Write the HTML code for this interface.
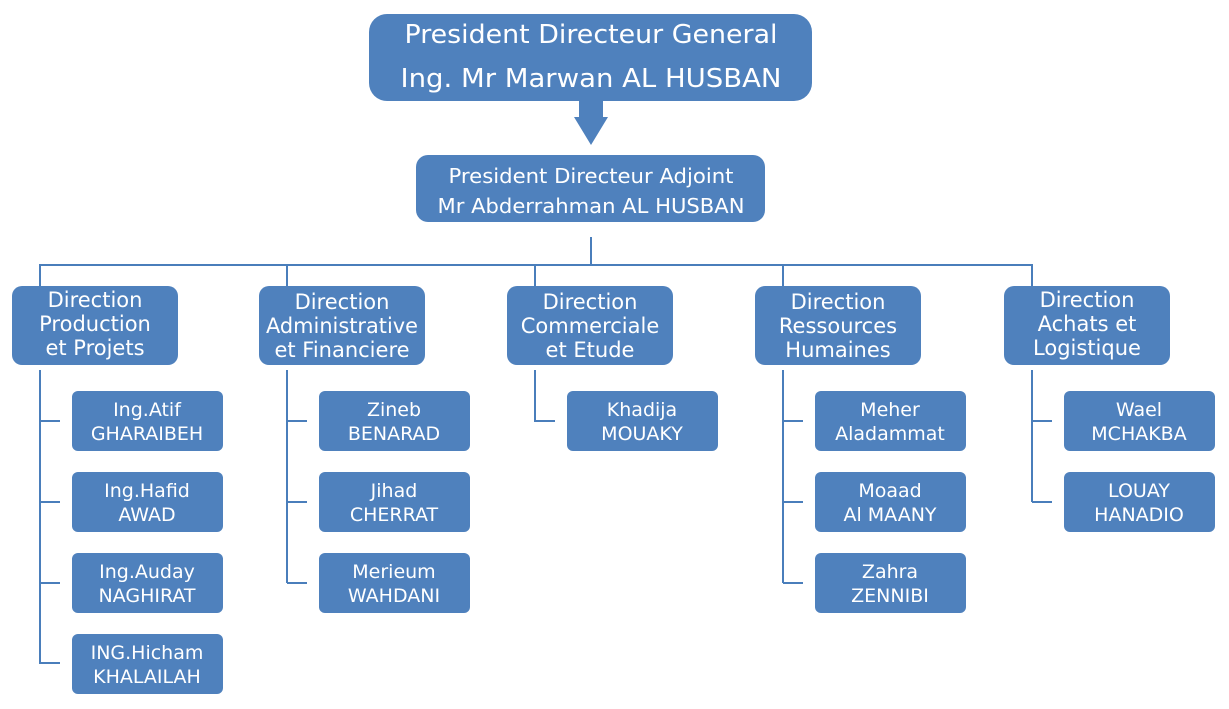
<!DOCTYPE html>
<html><head><meta charset="utf-8"><style>
html,body{margin:0;padding:0;background:#fff;}
svg{display:block;}
text{font-family:"DejaVu Sans","Liberation Sans",sans-serif;fill:#fff;text-anchor:middle;}
</style></head><body>
<svg width="1229" height="709" viewBox="0 0 1229 709" xmlns="http://www.w3.org/2000/svg">
<g fill="#4f81bd">
<rect x="369" y="14" width="443" height="87" rx="18"/>
<polygon points="579,101 603,101 603,117 608,117 591,145 574,117 579,117"/>
<rect x="416" y="155" width="349" height="67" rx="12"/>
</g>
<text x="591" y="43" font-size="26" textLength="373" lengthAdjust="spacingAndGlyphs">President Directeur General</text>
<text x="591" y="87" font-size="26" textLength="381" lengthAdjust="spacingAndGlyphs">Ing. Mr Marwan AL HUSBAN</text>
<text x="591" y="183" font-size="20.5" textLength="285" lengthAdjust="spacingAndGlyphs">President Directeur Adjoint</text>
<text x="591" y="213" font-size="20.5" textLength="307" lengthAdjust="spacingAndGlyphs">Mr Abderrahman AL HUSBAN</text>

<g stroke="#4a7ebb" stroke-width="2" fill="none">
<line x1="591" y1="237" x2="591" y2="265"/>
<line x1="39" y1="265" x2="1033" y2="265"/>
<line x1="40" y1="265" x2="40" y2="286"/>
<line x1="287" y1="265" x2="287" y2="286"/>
<line x1="535" y1="265" x2="535" y2="286"/>
<line x1="783" y1="265" x2="783" y2="286"/>
<line x1="1032" y1="265" x2="1032" y2="286"/>
<path d="M40 370 V664 M40 421 H60 M40 502 H60 M40 583 H60 M40 663 H60"/>
<path d="M287 370 V583 M287 421 H307 M287 502 H307 M287 583 H307"/>
<path d="M535 370 V421 H555"/>
<path d="M783 370 V583 M783 421 H803 M783 502 H803 M783 583 H803"/>
<path d="M1032 370 V502 M1032 421 H1052 M1032 502 H1052"/>
</g>

<g fill="#4f81bd">
<rect x="12" y="286" width="166" height="79" rx="10"/>
<rect x="259" y="286" width="166" height="79" rx="10"/>
<rect x="507" y="286" width="166" height="79" rx="10"/>
<rect x="755" y="286" width="166" height="79" rx="10"/>
<rect x="1004" y="286" width="166" height="79" rx="10"/>
<rect x="72" y="391" width="151" height="60" rx="6"/>
<rect x="72" y="472" width="151" height="60" rx="6"/>
<rect x="72" y="553" width="151" height="60" rx="6"/>
<rect x="72" y="634" width="151" height="60" rx="6"/>
<rect x="319" y="391" width="151" height="60" rx="6"/>
<rect x="319" y="472" width="151" height="60" rx="6"/>
<rect x="319" y="553" width="151" height="60" rx="6"/>
<rect x="567" y="391" width="151" height="60" rx="6"/>
<rect x="815" y="391" width="151" height="60" rx="6"/>
<rect x="815" y="472" width="151" height="60" rx="6"/>
<rect x="815" y="553" width="151" height="60" rx="6"/>
<rect x="1064" y="391" width="151" height="60" rx="6"/>
<rect x="1064" y="472" width="151" height="60" rx="6"/>
</g>

<g font-size="21">
<text x="95" y="307">Direction</text><text x="95" y="331">Production</text><text x="95" y="355">et Projets</text>
<text x="342" y="309">Direction</text><text x="342" y="333" textLength="152" lengthAdjust="spacingAndGlyphs">Administrative</text><text x="342" y="357">et Financiere</text>
<text x="590" y="309">Direction</text><text x="590" y="333">Commerciale</text><text x="590" y="357">et Etude</text>
<text x="838" y="309">Direction</text><text x="838" y="333">Ressources</text><text x="838" y="357">Humaines</text>
<text x="1087" y="307">Direction</text><text x="1087" y="331">Achats et</text><text x="1087" y="355">Logistique</text>
</g>

<g font-size="19">
<text x="147" y="416">Ing.Atif</text><text x="147" y="440">GHARAIBEH</text>
<text x="147" y="497">Ing.Hafid</text><text x="147" y="521">AWAD</text>
<text x="147" y="578">Ing.Auday</text><text x="147" y="602">NAGHIRAT</text>
<text x="147" y="659">ING.Hicham</text><text x="147" y="683">KHALAILAH</text>
<text x="394" y="416">Zineb</text><text x="394" y="440">BENARAD</text>
<text x="394" y="497">Jihad</text><text x="394" y="521">CHERRAT</text>
<text x="394" y="578">Merieum</text><text x="394" y="602">WAHDANI</text>
<text x="642" y="416">Khadija</text><text x="642" y="440">MOUAKY</text>
<text x="890" y="416">Meher</text><text x="890" y="440">Aladammat</text>
<text x="890" y="497">Moaad</text><text x="890" y="521">Al MAANY</text>
<text x="890" y="578">Zahra</text><text x="890" y="602">ZENNIBI</text>
<text x="1139" y="416">Wael</text><text x="1139" y="440">MCHAKBA</text>
<text x="1139" y="497">LOUAY</text><text x="1139" y="521">HANADIO</text>
</g>
</svg>
</body></html>
